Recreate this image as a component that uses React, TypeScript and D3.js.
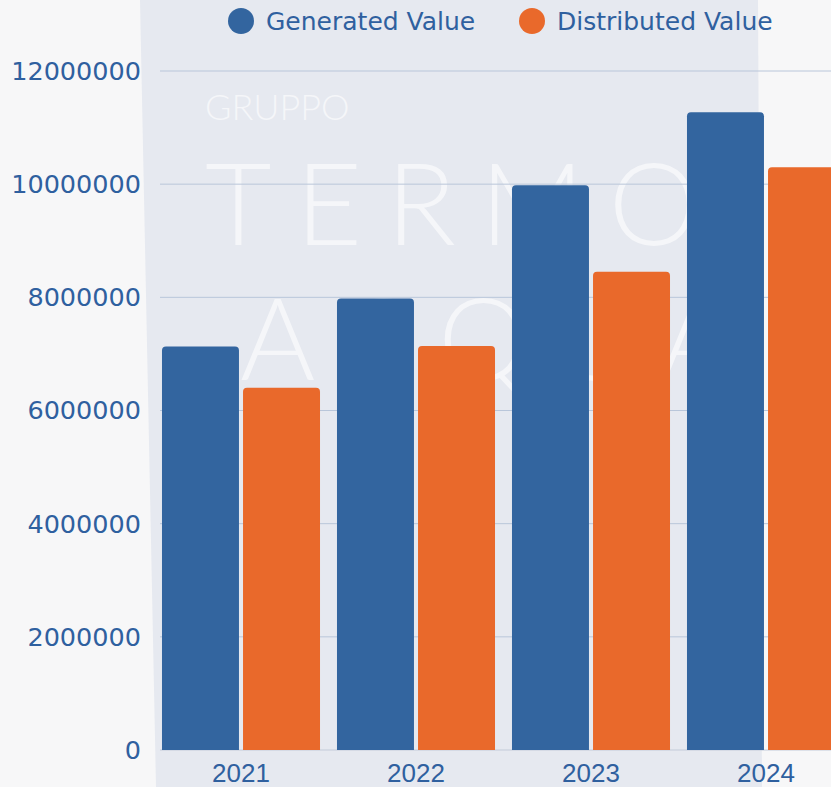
import React from 'react'
import * as d3 from 'd3'

const years = ['2021', '2022', '2023', '2024']
const seriesNames = ['Generated Value', 'Distributed Value']
const generated = [7130000, 7980000, 9980000, 11270000]
const distributed = [6400000, 7140000, 8450000, 10300000]
const yTicks = [0, 2000000, 4000000, 6000000, 8000000, 10000000, 12000000]

const colors = ['#33659f', '#e9692b']
const textColor = '#2f609f'

const roundTop = (x, y, w, h, r) => {
  const p = d3.path()
  p.moveTo(x, y + h)
  p.lineTo(x, y + r)
  p.quadraticCurveTo(x, y, x + r, y)
  p.lineTo(x + w - r, y)
  p.quadraticCurveTo(x + w, y, x + w, y + r)
  p.lineTo(x + w, y + h)
  p.closePath()
  return p.toString()
}

export default function App() {
  const width = 831,
    height = 787

  const x0 = d3.scaleBand()
    .domain(years)
    .range([153.5, 853.5])
    .paddingInner(0.097)
    .paddingOuter(0.0485)

  const x1 = d3.scaleBand()
    .domain(seriesNames)
    .range([0, x0.bandwidth()])
    .paddingInner(0.05)

  const y = d3.scaleLinear()
    .domain([0, 12000000])
    .range([750, 71])

  const values = [generated, distributed]
  const font = '"DejaVu Sans", sans-serif'
  const narrow = '"Liberation Sans", Arial, sans-serif'
  const thin = 'Lato, sans-serif'

  return (
    <svg width={width} height={height} style={{position: 'absolute', left: 0, top: 0}}>
      <rect x={0} y={0} width={width} height={height} fill={'#f7f7f8'} />
      {/* faded backdrop panel */}
      <polygon points={'140,0 758,0 762,787 156,787'} fill={'#e6e9f0'} />

      {/* watermark */}
      <g fill={'#ffffff'} opacity={0.6} fontFamily={thin} fontWeight={300}>
        <text x={205} y={120} fontSize={36}>GRUPPO</text>
        <text x={205} y={245} fontSize={115} letterSpacing={24}>TERMO</text>
        <text x={240} y={380} fontSize={115} letterSpacing={24}>ACQUA</text>
      </g>

      {/* gridlines */}
      {yTicks.map((t, i) => (
        <line
          key={i}
          x1={160}
          x2={width}
          y1={y(t)}
          y2={y(t)}
          stroke={t === 0 ? '#c3cbd9' : '#b9c6da'}
          strokeWidth={1}
        />
      ))}

      {/* y labels */}
      {yTicks.map((t, i) => (
        <text
          key={i}
          x={141}
          y={y(t)}
          dy={'0.35em'}
          textAnchor={'end'}
          fontFamily={font}
          fontSize={25.5}
          fill={textColor}
        >{t}</text>
      ))}

      {/* bars */}
      {years.map((yr, gi) => (
        <g key={yr} transform={`translate(${x0(yr)},0)`}>
          {seriesNames.map((s, si) => {
            const v = values[si][gi]
            return <path
              key={s}
              d={roundTop(x1(s), y(v), x1.bandwidth(), y(0) - y(v), 4)}
              fill={colors[si]}
            />
          })}
        </g>
      ))}

      {/* x labels */}
      {years.map(yr => (
        <text
          key={yr}
          x={x0(yr) + x0.bandwidth() / 2}
          y={782}
          textAnchor={'middle'}
          fontFamily={narrow}
          fontSize={26}
          fill={textColor}
        >{yr}</text>
      ))}

      {/* legend */}
      {seriesNames.map((s, i) => {
        const lx = [241, 532][i]
        return (
          <g key={s}>
            <circle cx={lx} cy={21} r={13} fill={colors[i]} />
            <text x={lx + 25} y={21} dy={'0.35em'} fontFamily={font} fontSize={25} fill={textColor}>{s}</text>
          </g>
        )
      })}
    </svg>
  )
}
